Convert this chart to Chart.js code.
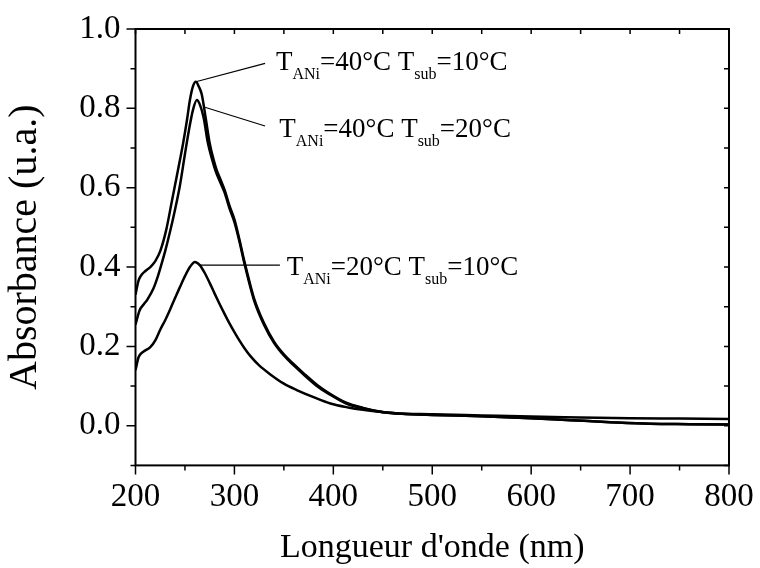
<!DOCTYPE html>
<html>
<head>
<meta charset="utf-8">
<script src="https://cdn.jsdelivr.net/npm/chart.js@4/dist/chart.umd.min.js"></script>
<style>
  html, body { margin: 0; padding: 0; background: #ffffff; }
  #wrap { width: 760px; height: 568px; position: relative; }
</style>
</head>
<body>
<div id="wrap"><canvas id="c"></canvas></div>
<script>
// ---- Data ----
const xTickValues = [200, 300, 400, 500, 600, 700, 800];
const yTickValues = [0.0, 0.2, 0.4, 0.6, 0.8, 1.0];

// T_ANi=40°C T_sub=10°C
const wavelengthA = [200,203,206,210,215,220,225,231,237,243,248,252,255,258,261,264,267,271,275,279,282,286,290,295,300,305,310,315,320,330,340,350,360,370,383,395,413,430,447,470,500,550,600,640,680,720,760,800];
const absorbanceA = [0.33,0.365,0.38,0.39,0.40,0.415,0.44,0.493,0.569,0.645,0.71,0.77,0.821,0.855,0.867,0.855,0.835,0.775,0.712,0.67,0.645,0.62,0.595,0.555,0.52,0.47,0.415,0.365,0.32,0.258,0.212,0.18,0.155,0.132,0.104,0.083,0.058,0.045,0.036,0.030,0.027,0.024,0.019,0.014,0.009,0.005,0.004,0.003];

// T_ANi=40°C T_sub=20°C
const wavelengthB = [200,204,208,212,218,222,226,230,235,240,245,250,254,258,262,265,269,273,277,281,286,290,295,300,305,310,315,320,330,340,350,360,370,383,395,413,430,447,470,500,550,600,640,680,720,760,800];
const absorbanceB = [0.255,0.29,0.305,0.318,0.345,0.372,0.405,0.44,0.49,0.545,0.607,0.685,0.745,0.795,0.821,0.81,0.775,0.715,0.675,0.642,0.612,0.588,0.548,0.513,0.465,0.41,0.36,0.315,0.254,0.209,0.177,0.152,0.129,0.101,0.081,0.056,0.044,0.035,0.030,0.027,0.024,0.019,0.014,0.009,0.005,0.004,0.003];

// T_ANi=20°C T_sub=10°C
const wavelengthC = [200,203,206,210,215,220,225,230,235,240,245,250,255,260,265,270,275,280,285,290,295,300,305,310,316,325,336,350,363,380,397,415,430,447,464,500,550,600,650,700,750,800];
const absorbanceC = [0.14,0.172,0.183,0.19,0.198,0.215,0.242,0.266,0.293,0.322,0.35,0.377,0.4,0.413,0.405,0.385,0.36,0.333,0.307,0.282,0.258,0.236,0.215,0.196,0.176,0.152,0.13,0.106,0.09,0.072,0.056,0.046,0.04,0.035,0.031,0.029,0.026,0.023,0.021,0.019,0.018,0.017];

// ---- Annotations (text pieces: [text, isSubscript]) ----
const annotations = [
  { parts: [['T',0],['ANi',1],['=40°C T',0],['sub',1],['=10°C',0]], from: [261, 0.867], to: [331, 0.9135], at: [342, 0.897] },
  { parts: [['T',0],['ANi',1],['=40°C T',0],['sub',1],['=20°C',0]], from: [268.5, 0.804], to: [331, 0.7555], at: [345.4, 0.728] },
  { parts: [['T',0],['ANi',1],['=20°C T',0],['sub',1],['=10°C',0]], from: [265.2, 0.405], to: [346, 0.405], at: [352.9, 0.38] }
];

const toPoints = (xs, ys) => xs.map((x, i) => ({ x: x, y: ys[i] }));

const SERIF = '"Liberation Serif", "Times New Roman", serif';

const framePlugin = {
  id: 'frame',
  afterDatasetsDraw(chart) {
    const ctx = chart.ctx;
    const xs = chart.scales.x, ys = chart.scales.y;
    const a = chart.chartArea;
    ctx.save();
    ctx.strokeStyle = '#000';
    ctx.lineWidth = 2;
    ctx.strokeRect(a.left, a.top, a.right - a.left, a.bottom - a.top);
    ctx.lineWidth = 1.5;
    ctx.beginPath();
    for (let v = 200; v <= 800; v += 50) {
      const px = xs.getPixelForValue(v);
      const major = v % 100 === 0;
      ctx.moveTo(px, a.bottom);
      ctx.lineTo(px, a.bottom + (major ? 9 : 5));
      ctx.moveTo(px, a.top);
      ctx.lineTo(px, a.top + 5);
    }
    for (let k = -1; k <= 10; k++) {
      const v = k / 10;
      const py = ys.getPixelForValue(v);
      const major = k % 2 === 0;
      ctx.moveTo(a.left, py);
      ctx.lineTo(a.left - (major ? 9 : 5), py);
      ctx.moveTo(a.right, py);
      ctx.lineTo(a.right - 5, py);
    }
    ctx.stroke();

    ctx.lineWidth = 1.2;
    ctx.fillStyle = '#000';
    ctx.textBaseline = 'alphabetic';
    ctx.textAlign = 'left';
    annotations.forEach(an => {
      ctx.beginPath();
      ctx.moveTo(xs.getPixelForValue(an.from[0]), ys.getPixelForValue(an.from[1]));
      ctx.lineTo(xs.getPixelForValue(an.to[0]), ys.getPixelForValue(an.to[1]));
      ctx.stroke();
      let x = xs.getPixelForValue(an.at[0]);
      const y = ys.getPixelForValue(an.at[1]);
      an.parts.forEach(([t, sub]) => {
        ctx.font = (sub ? '16px ' : '27px ') + SERIF;
        ctx.fillText(t, x, sub ? y + 9 : y);
        x += ctx.measureText(t).width;
      });
    });
    ctx.restore();
  }
};

new Chart(document.getElementById('c'), {
  type: 'line',
  data: {
    datasets: [
      { label: 'T_ANi=40°C T_sub=10°C', data: toPoints(wavelengthA, absorbanceA) },
      { label: 'T_ANi=40°C T_sub=20°C', data: toPoints(wavelengthB, absorbanceB) },
      { label: 'T_ANi=20°C T_sub=10°C', data: toPoints(wavelengthC, absorbanceC) }
    ].map(d => Object.assign(d, {
      borderColor: '#000', borderWidth: 2.5, pointRadius: 0, fill: false,
      cubicInterpolationMode: 'monotone'
    }))
  },
  options: {
    responsive: true,
    maintainAspectRatio: false,
    animation: false,
    events: [],
    layout: { padding: { top: 29, right: 31, left: 0, bottom: 0 } },
    plugins: { legend: { display: false }, tooltip: { enabled: false } },
    scales: {
      x: {
        type: 'linear', min: 200, max: 800,
        afterBuildTicks: s => { s.ticks = xTickValues.map(v => ({ value: v })); },
        afterFit: s => { s.height = 102.6; },
        grid: { display: false, drawTicks: true, tickLength: 9 },
        border: { display: false },
        ticks: { color: '#000', padding: 3, maxRotation: 0, font: { family: SERIF, size: 33 },
                 callback: v => String(v) },
        title: { display: true, text: "Longueur d'onde (nm)", color: '#000',
                 font: { family: SERIF, size: 34 }, padding: { top: 0, bottom: 0 } }
      },
      y: {
        type: 'linear', min: -0.1, max: 1.0,
        afterBuildTicks: s => { s.ticks = yTickValues.map(v => ({ value: v })); },
        afterFit: s => { s.width = 135.5; },
        grid: { display: false, drawTicks: true, tickLength: 9 },
        border: { display: false },
        ticks: { color: '#000', padding: 6, font: { family: SERIF, size: 33 },
                 callback: v => Number(v).toFixed(1) },
        title: { display: true, text: 'Absorbance (u.a.)', color: '#000',
                 font: { family: SERIF, size: 40 }, padding: { top: 1, bottom: 0 } }
      }
    }
  },
  plugins: [framePlugin]
});
</script>
</body>
</html>
